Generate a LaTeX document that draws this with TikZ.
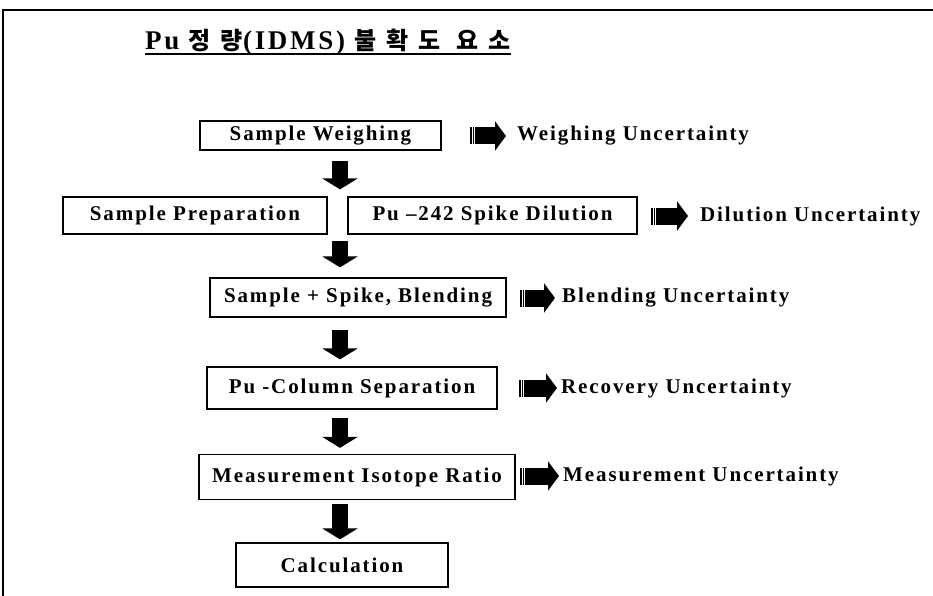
\documentclass[tikz,border=0pt]{standalone}
\usepackage{fontspec}
\newfontfamily\boxfont{Liberation Serif}[LetterSpace=9]
\newfontfamily\titlefont{Liberation Serif}[LetterSpace=10]
\newfontfamily\kofont{Noto Sans CJK KR}[LetterSpace=42]
\usetikzlibrary{arrows.meta,calc}

\tikzset{
  stepbox/.style={draw, line width=1.2pt, inner sep=0pt, align=center,
    font={\boxfont\bfseries\fontsize{21}{24}\selectfont}},
  unclabel/.style={anchor=west, inner sep=0pt,
    font={\boxfont\bfseries\fontsize{21}{24}\selectfont}},
  downarr/.style={line width=16pt, -{Triangle[width=35pt,length=11pt]}},
  rightarr/.style={line width=17pt, dash pattern=on 1.5pt off 1pt on 1.5pt off 1pt on 300pt,
    -{Triangle[width=29pt,length=11pt]}}
}

\begin{document}
\begin{tikzpicture}[x=1pt, y=-1pt]
        \useasboundingbox (0,0) rectangle (933,596);

        % Marco
        \draw[line width=1.5pt] (933,10) -- (3,10) -- (3,596);

        % Titulo
        \node[anchor=base west, inner sep=0pt] (title) at (145,50)
          {\titlefont\bfseries\fontsize{27}{29}\selectfont Pu {\kofont\bfseries\fontsize{24}{27}\selectfont 정량}(IDMS) {\kofont\bfseries\fontsize{24}{27}\selectfont 불확도 요소}};
        \draw[line width=1.5pt] ([yshift=-4pt]title.base west) -- ([yshift=-4pt]title.base east);

        % Etapas
        \node[stepbox, minimum width=241pt, minimum height=29pt] (weigh) at (320.5,135.5) {Sample Weighing};
        \node[stepbox, minimum width=264pt, minimum height=37pt] (prep) at (195,215.5) {Sample Preparation};
        \node[stepbox, minimum width=289pt, minimum height=37pt] (spike) at (492.5,215.5) {Pu –242 Spike Dilution};
        \node[stepbox, minimum width=296pt, minimum height=39pt] (blend) at (358,297.5) {Sample + Spike, Blending};
        \node[stepbox, minimum width=290pt, minimum height=42pt] (sep) at (352,388) {Pu -Column Separation};
        \node[stepbox, minimum width=316pt, minimum height=45pt] (meas) at (357,477) {Measurement Isotope Ratio};
        \node[stepbox, minimum width=212pt, minimum height=44pt] (calc) at (342,565) {Calculation};

        % Incertidumbres
        \node[unclabel] (uweigh) at (517,136) {Weighing Uncertainty};
        \node[unclabel] (uspike) at (700,216) {Dilution Uncertainty};
        \node[unclabel] (ublend) at (562,298) {Blending Uncertainty};
        \node[unclabel] (usep) at (561,388) {Recovery Uncertainty};
        \node[unclabel] (umeas) at (563,476) {Measurement Uncertainty};

        % Flechas hacia abajo
        \coordinate (axis) at (340,0);
        \draw[downarr] ($(weigh.south -| axis)+(0,10)$) -- ($(prep.north -| axis)+(0,-7)$);
        \draw[downarr] ($(prep.south -| axis)+(0,6)$) -- ($(blend.north -| axis)+(0,-10)$);
        \draw[downarr] ($(blend.south -| axis)+(0,12)$) -- ($(sep.north -| axis)+(0,-7)$);
        \draw[downarr] ($(sep.south -| axis)+(0,8)$) -- ($(meas.north -| axis)+(0,-6)$);
        \draw[downarr] ($(meas.south -| axis)+(0,4)$) -- ($(calc.north -| axis)+(0,-3)$);

        % Flechas hacia las incertidumbres
        \draw[rightarr] ($(uweigh.west)+(-47,0)$) -- ($(uweigh.west)+(-11,0)$);
        \draw[rightarr] ($(uspike.west)+(-49,0)$) -- ($(uspike.west)+(-12,0)$);
        \draw[rightarr] ($(ublend.west)+(-42,0)$) -- ($(ublend.west)+(-7,0)$);
        \draw[rightarr] ($(usep.west)+(-42,0)$) -- ($(usep.west)+(-4,0)$);
        \draw[rightarr] ($(umeas.west)+(-43,0)$) -- ($(umeas.west)+(-4,0)$);
    \end{tikzpicture}
\end{document}
